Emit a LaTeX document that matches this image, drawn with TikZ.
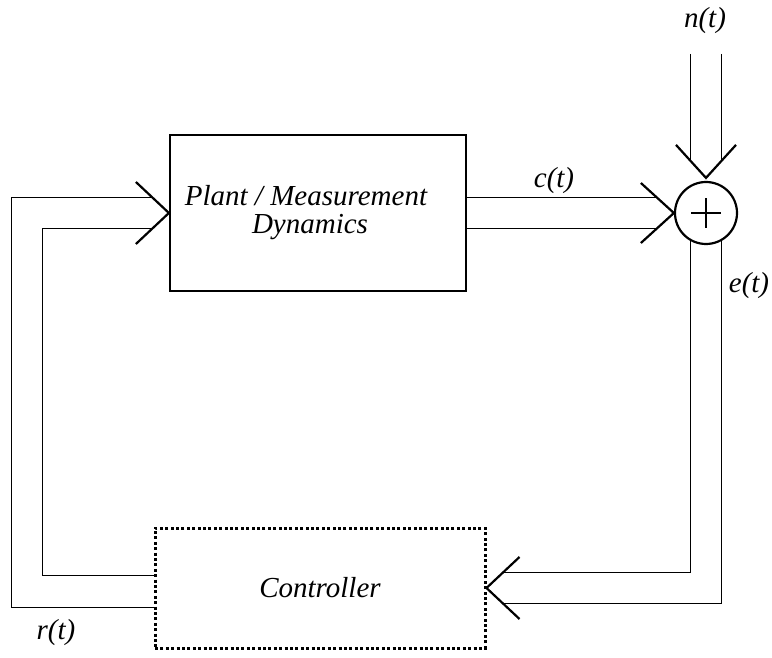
\documentclass[tikz,border=0pt]{standalone}
\usepackage{fontspec}
\setmainfont{Liberation Serif}
\usetikzlibrary{backgrounds}
\begin{document}
\begin{tikzpicture}[x=1pt,y=1pt,line width=2.2pt,
        block/.style={draw,rectangle,fill=white,inner sep=0pt,align=center,font=\fontsize{29}{28}\selectfont\itshape},
        lbl/.style={font=\fontsize{29}{30}\selectfont\itshape,inner sep=0pt}]
    \useasboundingbox (0,0) rectangle (772,657);

    \node[block,minimum width=296,minimum height=156] (plant) at (318,444) {\hspace*{-24pt}Plant / Measurement\\\hspace*{-16pt}Dynamics};
    \node[block,dash pattern=on 3pt off 2.4pt,line width=3pt,minimum width=330,minimum height=120] (ctrl) at (320,69) {Controller};
    \node[draw,circle,fill=white,minimum size=62,inner sep=0pt] (sum) at (706,444) {};
    \draw ([xshift=-15]sum.center) -- ([xshift=15]sum.center);
    \draw ([yshift=-15]sum.center) -- ([yshift=15]sum.center);

    \coordinate (ntop) at (706,603);
    \coordinate (ntip) at ([yshift=3]sum.north);

    \begin{scope}[on background layer]
        \draw ([xshift=-15.5]ntop) -- ([shift={(-15.5,17)}]ntip);
        \draw ([xshift=15.5]ntop) -- ([shift={(15.5,17)}]ntip);
        \draw ([yshift=15.5]plant.east) -- ([shift={(-17,15.5)}]sum.west);
        \draw ([yshift=-15.5]plant.east) -- ([shift={(-17,-15.5)}]sum.west);
        \draw ([xshift=-15.5]sum.center) |- ([shift={(16,15.5)}]ctrl.east);
        \draw ([xshift=15.5]sum.center) |- ([shift={(16,-15.5)}]ctrl.east);
        \draw ([yshift=13]ctrl.west) -| ([shift={(-127,-15.5)}]plant.west) -- ([shift={(-16,-15.5)}]plant.west);
        \draw ([yshift=-19]ctrl.west) -| ([shift={(-158,15.5)}]plant.west) -- ([shift={(-16,15.5)}]plant.west);
    \end{scope}

    \draw ([shift={(-33,31)}]plant.west) -- (plant.west) -- ([shift={(-33,-31)}]plant.west);
    \draw ([shift={(-33,30)}]sum.west) -- (sum.west) -- ([shift={(-33,-30)}]sum.west);
    \draw ([shift={(-30,33)}]ntip) -- (ntip) -- ([shift={(30,33)}]ntip);
    \draw ([shift={(33,31)}]ctrl.east) -- (ctrl.east) -- ([shift={(33,-31)}]ctrl.east);

    \node[lbl] at (705,636) {n(t)};
    \node[lbl] at (554,476) {c(t)};
    \node[lbl] at (749,371) {e(t)};
    \node[lbl] at (56,24) {r(t)};
\end{tikzpicture}
\end{document}
